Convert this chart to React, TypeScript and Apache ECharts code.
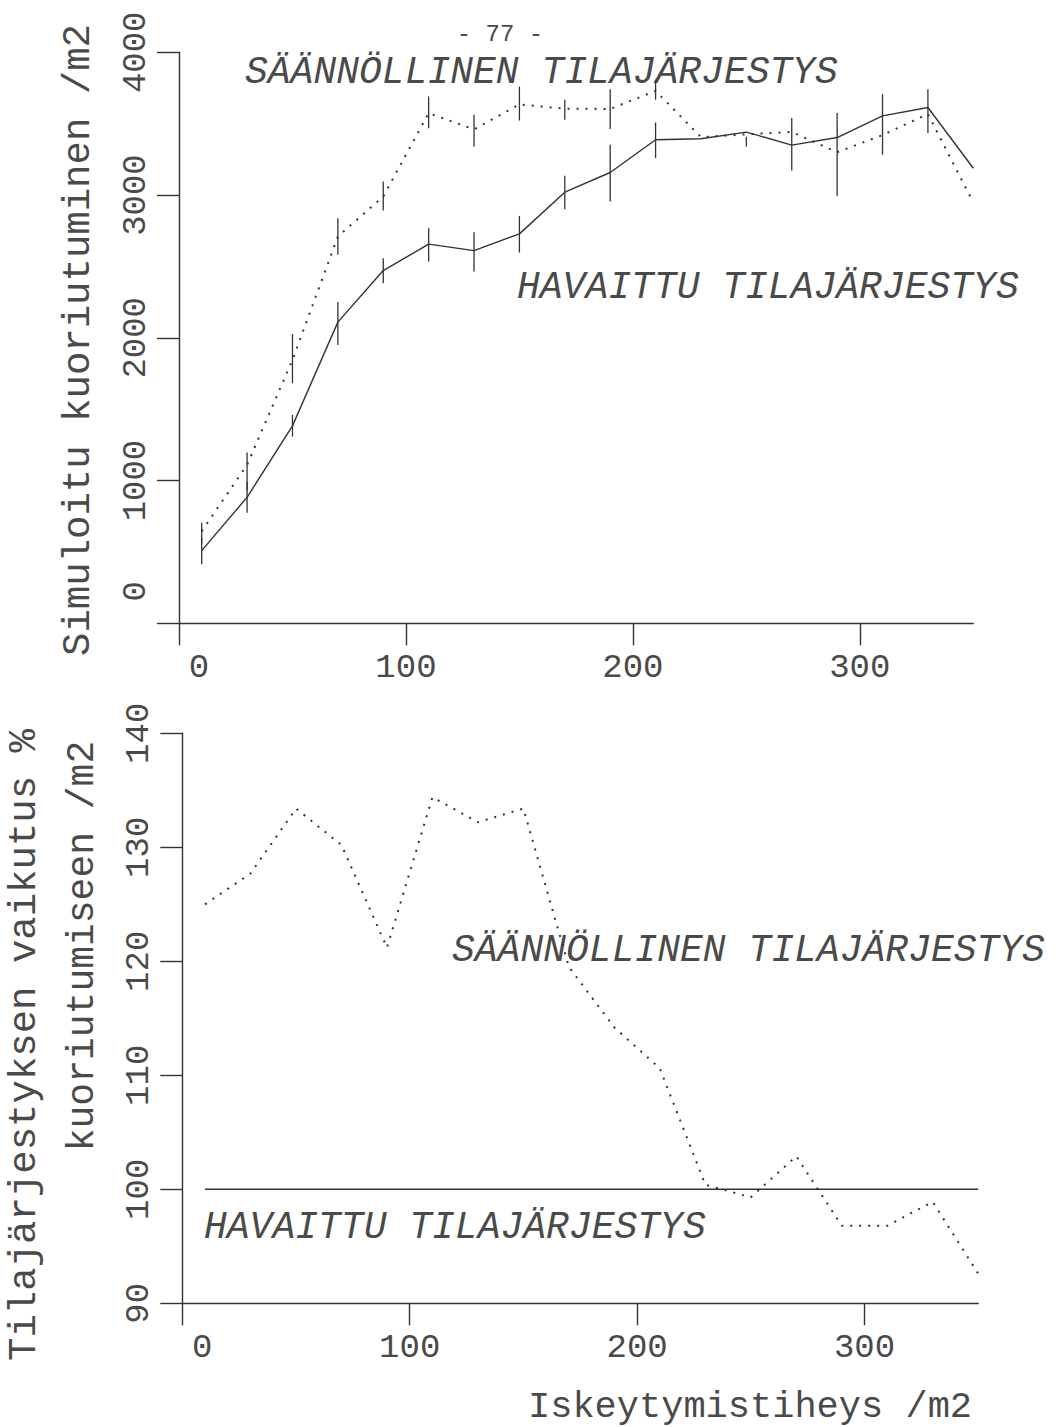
import React, { useEffect, useRef } from "react";
import * as echarts from "echarts";

// Iskeytymistiheys /m2 (class midpoints)
const densities = [10, 30, 50, 70, 90, 110, 130, 150, 170, 190, 210, 230, 250, 270, 290, 310, 330, 350];
// Simuloitu kuoriutuminen /m2 — havaittu tilajärjestys (solid)
const observed = [509, 883, 1383, 2110, 2471, 2656, 2611, 2728, 3020, 3158, 3387, 3394, 3441, 3350, 3403, 3555, 3613, 3188];
// Simuloitu kuoriutuminen /m2 — säännöllinen tilajärjestys (dotted)
const regular = [645, 1110, 1845, 2709, 2990, 3574, 3460, 3635, 3605, 3603, 3730, 3406, 3425, 3442, 3300, 3420, 3568, 2948];
// Error bar extents (null = no bar drawn)
const observedLow = [413, 775, 1308, 1950, 2382, 2534, 2464, 2597, 2901, 2954, 3259, null, 3339, 3172, 2994, 3282, 3434, null];
const observedHigh = [600, 990, 1460, 2250, 2557, 2768, 2740, 2854, 3135, 3352, 3508, null, 3409, 3539, 3574, 3707, 3742, null];
const regularLow = [560, 930, 1682, 2581, 2891, 3468, 3340, 3522, 3527, 3462, 3668, null, null, null, null, null, null, null];
const regularHigh = [705, 1196, 2026, 2838, 3095, 3690, 3562, 3760, 3667, 3742, 3808, null, null, null, null, null, null, null];
// Tilajärjestyksen vaikutus % (bottom panel)
const observedPct = [100, 100, 100, 100, 100, 100, 100, 100, 100, 100, 100, 100, 100, 100, 100, 100, 100, 100];
const regularPct = [125, 127.7, 133.4, 130.2, 121.2, 134.4, 132.2, 133.4, 119.5, 114.2, 110.6, 100.4, 99.3, 102.9, 96.8, 96.8, 98.9, 92.6];
// Tick values
const xTicks = [0, 100, 200, 300];
const topYTicks = [0, 1000, 2000, 3000, 4000];
const bottomYTicks = [90, 100, 110, 120, 130, 140];

const FONT = "Liberation Mono";
const INK = "#333";
const TXT = "#4a4a4a";

function pairs(ys: (number | null)[]) {
  return densities.map((x, i) => [x, ys[i]]);
}
function bars(lo: (number | null)[], hi: (number | null)[]) {
  const out: number[][] = [];
  densities.forEach((x, i) => {
    if (lo[i] != null && hi[i] != null) out.push([x, lo[i] as number, hi[i] as number]);
  });
  return out;
}

const errRender = (params: any, api: any) => {
  const x = api.value(0);
  const p1 = api.coord([x, api.value(1)]);
  const p2 = api.coord([x, api.value(2)]);
  return {
    type: "line",
    shape: { x1: p1[0], y1: p1[1], x2: p2[0], y2: p2[1] },
    style: { stroke: INK, lineWidth: 1.3 },
  };
};

const axisLine = { lineStyle: { color: INK, width: 1.4 } };
const tickBase = { show: true, length: 22, lineStyle: { color: INK, width: 1.4 } };
const labelBase = { fontFamily: FONT, fontSize: 34, color: TXT };

function zeroShift(pad: number) {
  return {
    formatter: (v: number) => (v === 0 ? "{z|0}" : String(v)),
    rich: { z: { fontFamily: FONT, fontSize: 34, color: TXT, padding: [0, 0, 0, pad] } },
  };
}

function txt(text: string, x: number, y: number, size: number, opts: any = {}) {
  return {
    type: "text",
    x,
    y,
    rotation: opts.rotation || 0,
    style: {
      text,
      fontFamily: FONT,
      fontSize: size,
      fontStyle: opts.italic ? "italic" : "normal",
      fill: TXT,
      align: opts.align || "left",
      textAlign: opts.align || "left",
      verticalAlign: "middle",
      textVerticalAlign: "middle",
    },
  };
}

export default function App() {
  const ref = useRef<HTMLDivElement>(null);
  useEffect(() => {
    if (!ref.current) return;
    const chart = echarts.init(ref.current, undefined, { renderer: "svg" });
    chart.setOption({
      animation: false,
      backgroundColor: "#fff",
      grid: [
        { left: 179, top: 52.3, width: 794.3, height: 571, outerBoundsMode: "none", containLabel: false },
        { left: 182.3, top: 733.3, width: 795.9, height: 570, outerBoundsMode: "none", containLabel: false },
      ],
      xAxis: [
        {
          type: "value", gridIndex: 0, min: 0, max: 350,
          axisLine: { ...axisLine, onZero: false },
          axisTick: { ...tickBase, customValues: xTicks },
          axisLabel: { ...labelBase, margin: 28, customValues: xTicks, ...zeroShift(40) },
          splitLine: { show: false },
        },
        {
          type: "value", gridIndex: 1, min: 0, max: 350,
          axisLine: { ...axisLine, onZero: false },
          axisTick: { ...tickBase, customValues: xTicks },
          axisLabel: { ...labelBase, margin: 28, customValues: xTicks, ...zeroShift(40) },
          splitLine: { show: false },
        },
      ],
      yAxis: [
        {
          type: "value", gridIndex: 0, min: 0, max: 4000, interval: 1000,
          axisLine: { ...axisLine, onZero: false },
          axisTick: { ...tickBase, customValues: topYTicks },
          axisLabel: { ...labelBase, margin: 26, rotate: 90, customValues: topYTicks, ...zeroShift(64) },
          splitLine: { show: false },
        },
        {
          type: "value", gridIndex: 1, min: 90, max: 140, interval: 10,
          axisLine: { ...axisLine, onZero: false },
          axisTick: { ...tickBase, customValues: bottomYTicks },
          axisLabel: { ...labelBase, margin: 26, rotate: 90, customValues: bottomYTicks },
          splitLine: { show: false },
        },
      ],
      series: [
        {
          type: "line", xAxisIndex: 0, yAxisIndex: 0, data: pairs(observed),
          symbol: "none", lineStyle: { color: INK, width: 1.4 },
        },
        {
          type: "line", xAxisIndex: 0, yAxisIndex: 0, data: pairs(regular),
          symbol: "none", lineStyle: { color: INK, width: 2, type: [2, 7] },
        },
        {
          type: "custom", xAxisIndex: 0, yAxisIndex: 0, data: bars(observedLow, observedHigh),
          encode: { x: 0, y: [1, 2] }, renderItem: errRender,
        },
        {
          type: "custom", xAxisIndex: 0, yAxisIndex: 0, data: bars(regularLow, regularHigh),
          encode: { x: 0, y: [1, 2] }, renderItem: errRender,
        },
        {
          type: "line", xAxisIndex: 1, yAxisIndex: 1, data: pairs(observedPct),
          symbol: "none", lineStyle: { color: INK, width: 1.4 },
        },
        {
          type: "line", xAxisIndex: 1, yAxisIndex: 1, data: pairs(regularPct),
          symbol: "none", lineStyle: { color: INK, width: 2, type: [2, 7] },
        },
      ],
      graphic: [
        txt("- 77 -", 500, 34, 24, { align: "center" }),
        txt("SÄÄNNÖLLINEN TILAJÄRJESTYS", 245, 72, 38, { italic: true }),
        txt("HAVAITTU TILAJÄRJESTYS", 517, 287, 38, { italic: true }),
        txt("SÄÄNNÖLLINEN TILAJÄRJESTYS", 452, 950, 38, { italic: true }),
        txt("HAVAITTU TILAJÄRJESTYS", 204, 1227, 38, { italic: true }),
        txt("Simuloitu kuoriutuminen /m2", 79, 340, 39, { align: "center", rotation: Math.PI / 2 }),
        txt("Tilajärjestyksen vaikutus %", 25, 1045, 39, { align: "center", rotation: Math.PI / 2 }),
        txt("kuoriutumiseen /m2", 82, 946, 38, { align: "center", rotation: Math.PI / 2 }),
        txt("Iskeytymistiheys /m2", 750, 1407, 37, { align: "center" }),
      ],
    });
    return () => chart.dispose();
  }, []);
  return (
    <div
      ref={ref}
      style={{ position: "absolute", left: 0, top: 0, width: 1058, height: 1427, background: "#fff" }}
    />
  );
}
